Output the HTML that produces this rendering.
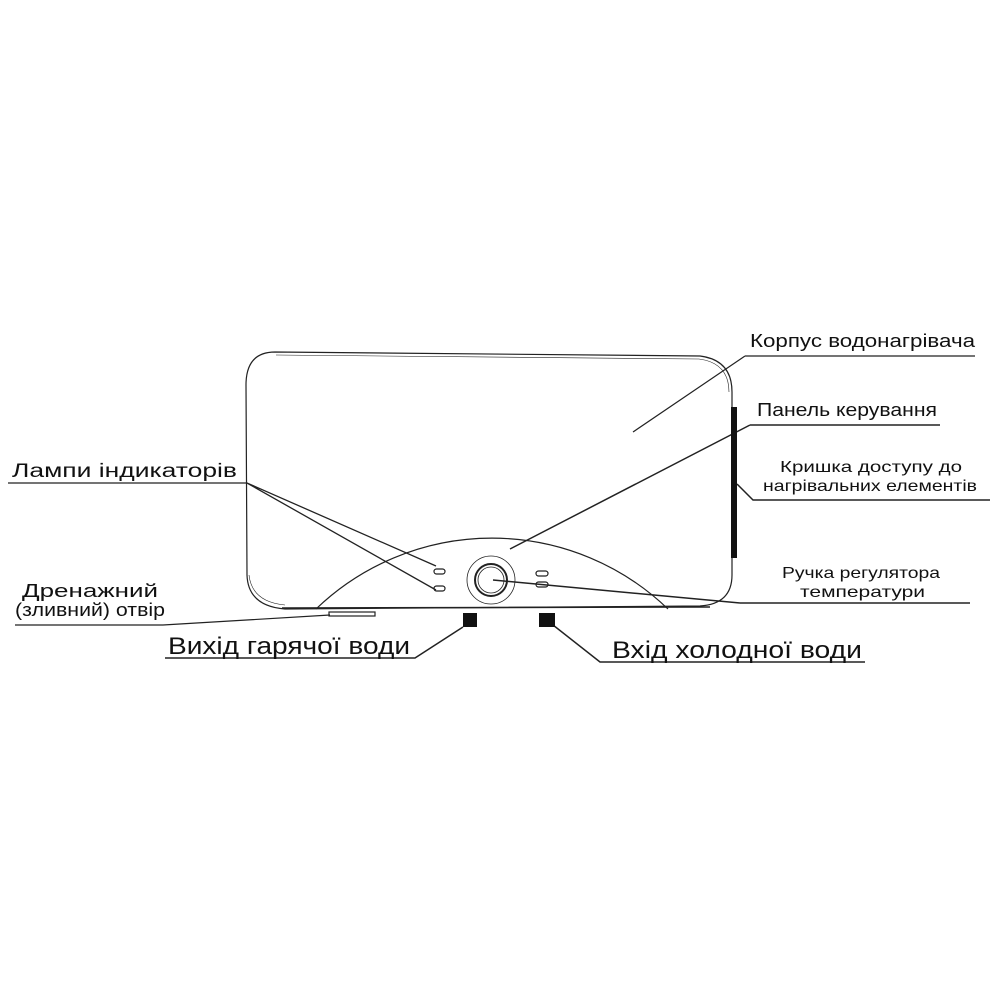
<!DOCTYPE html>
<html><head><meta charset="utf-8"><style>
html,body{margin:0;padding:0;background:#fff;}
svg{display:block}
text{font-family:"Liberation Sans","DejaVu Sans",sans-serif;fill:#111;}
</style></head><body>
<svg width="1000" height="1000" viewBox="0 0 1000 1000" xmlns="http://www.w3.org/2000/svg">
<g fill="none" stroke="#222" stroke-width="1.2">
<path d="M275 352 L700 356 Q732 360 732 392 L732 575 Q732 604 700 606 L285 609 Q248 606 247 575 L246 385 Q246 352 275 352 Z"/>
<path d="M276 355 L699 359 Q729 363 729 392" stroke-width="0.6"/>
<path d="M249 575 Q252 602 285 605" stroke-width="0.6"/>
<path d="M282 608 L710 607" stroke-width="1.5"/>
<path d="M316 609 A254 254 0 0 1 668 609"/>
<circle cx="491" cy="580" r="24" stroke-width="0.8"/>
<circle cx="491" cy="580" r="16" stroke-width="2"/>
<circle cx="491" cy="580" r="13" stroke-width="0.8"/>
<rect x="434" y="569" width="11" height="5" rx="2.5"/>
<rect x="434" y="586" width="11" height="5" rx="2.5"/>
<rect x="536" y="571" width="12" height="5" rx="2.5"/>
<rect x="536" y="582" width="12" height="5" rx="2.5"/>
<rect x="329" y="612" width="46" height="4"/>
<path d="M745 356 L975 356 M745 356 L633 432"/>
<path d="M750 425 L940 425 M750 425 L510 549" stroke-width="1.5"/>
<path d="M737 484 L753 500 L990 500" stroke-width="1.5"/>
<path d="M740 603 L970 603 M740 603 L493 580" stroke-width="1.5"/>
<path d="M8 483 L247 483 L436 566 M247 483 L436 590" stroke-width="1.3"/>
<path d="M15 625 L163 625 L330 615"/>
<path d="M165 658 L415 658 L463 627" stroke-width="1.5"/>
<path d="M865 662 L600 662 L553 625" stroke-width="1.5"/>
</g>
<rect x="731" y="407" width="6" height="151" fill="#111"/>
<rect x="463" y="613" width="14" height="14" fill="#111"/>
<rect x="539" y="613" width="16" height="14" fill="#111"/>
<text x="750" y="347" font-size="18" textLength="225" lengthAdjust="spacingAndGlyphs">Корпус водонагрівача</text>
<text x="757" y="416" font-size="18" textLength="180" lengthAdjust="spacingAndGlyphs">Панель керування</text>
<text x="780" y="472" font-size="16" textLength="182" lengthAdjust="spacingAndGlyphs">Кришка доступу до</text>
<text x="763" y="491" font-size="16" textLength="214" lengthAdjust="spacingAndGlyphs">нагрівальних елементів</text>
<text x="782" y="578" font-size="16" textLength="158" lengthAdjust="spacingAndGlyphs">Ручка регулятора</text>
<text x="800" y="597" font-size="16" textLength="125" lengthAdjust="spacingAndGlyphs">температури</text>
<text x="12" y="477" font-size="19" textLength="225" lengthAdjust="spacingAndGlyphs">Лампи індикаторів</text>
<text x="22" y="597" font-size="18" textLength="136" lengthAdjust="spacingAndGlyphs">Дренажний</text>
<text x="15" y="616" font-size="18" textLength="150" lengthAdjust="spacingAndGlyphs">(зливний) отвір</text>
<text x="168" y="654" font-size="24" textLength="242" lengthAdjust="spacingAndGlyphs">Вихід гарячої води</text>
<text x="612" y="658" font-size="24" textLength="250" lengthAdjust="spacingAndGlyphs">Вхід холодної води</text>
</svg>
</body></html>
